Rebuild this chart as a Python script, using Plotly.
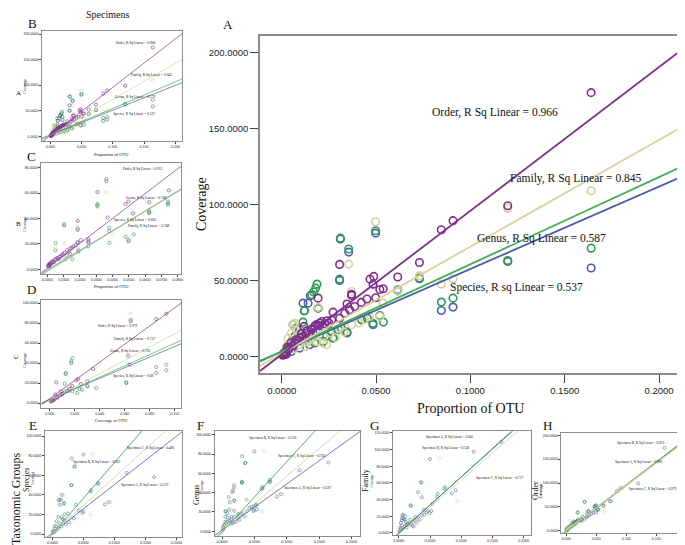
import plotly.graph_objects as go

W, H = 685, 545

# ---------------- data ----------------
# Specimen A (panel A main / panel B)
A_ORDER = [(0.164,173.7),(0.1198,99.2),(0.0908,89.4),(0.0846,83.4),(0.073,61.9),(0.0615,52.3),(0.0538,44.6),
           (0.052,44.1),(0.0488,52.7),(0.0468,50.9),(0.0484,47.6),(0.0498,38.6),(0.0452,37.8),(0.0422,35.6),
           (0.0387,32.9),(0.037,41.0),(0.037,40.2),(0.0346,34.5),(0.0307,60.6),(0.036,30.7),(0.0334,28.5),
           (0.0307,25.2),(0.0272,29.2),(0.025,22.0),(0.0214,23.0),(0.0201,22.0),(0.0193,38.4),(0.0193,20.5),
           (0.0157,17.6),(0.013,15.4),(0.0118,19.8),(0.0095,12.1),(0.0069,8.8),(0.0042,5.5),(0.0025,2.2),
           (0.0016,1.1),(0.0175,20.0),(0.016,18.0),(0.0145,14.5),(0.011,13.0),(0.0085,10.5),(0.006,7.0),
           (0.005,9.0),(0.0035,4.5),(0.003,6.0),(0.002,3.0),(0.0012,2.0),(0.0008,1.5),(0.0005,0.8),
           (0.0228,21.5),(0.024,23.5),(0.0265,24.0),(0.0075,11.0),(0.0105,15.0),(0.0135,17.0),(0.0185,21.0)]
A_FAMILY = [(0.164,109.1),(0.1198,97.5),(0.0846,47.6),(0.0908,51.2),(0.073,53.1),(0.0615,43.2),(0.0498,88.7),
            (0.0355,60.8),(0.037,42.8),(0.052,26.3),(0.0537,35.1),(0.0466,26.3),(0.037,20.9),(0.0307,18.7),
            (0.0254,15.4),(0.022,13.2),(0.0193,32.3),(0.0166,12.1),(0.0131,9.9),(0.0095,7.7),(0.006,20.9),
            (0.0069,22.0),(0.0051,15.4),(0.0034,12.1),(0.0025,6.6),(0.0016,3.3),(0.0011,1.5),(0.0113,13.2),
            (0.0148,11.0),(0.0184,9.9),(0.022,8.8),(0.0237,7.7),(0.0285,12.5),(0.033,16.0),(0.041,22.0),
            (0.044,24.5),(0.008,17.0),(0.0045,9.0),(0.01,16.0),(0.003,4.5),(0.0065,5.0),(0.0125,6.5)]
A_GENUS = [(0.164,71.3),(0.1198,63.2),(0.0846,35.8),(0.0908,38.4),(0.073,51.6),(0.0615,43.9),(0.0498,82.8),
           (0.0311,77.9),(0.0355,70.7),(0.0307,50.9),(0.0187,47.6),(0.018,45.0),(0.017,42.4),(0.0159,40.6),
           (0.0193,31.8),(0.012,30.1),(0.0113,22.6),(0.0484,20.9),(0.0539,22.6),(0.052,27.0),(0.0424,24.1),
           (0.0454,25.2),(0.0346,15.4),(0.0272,12.1),(0.03,17.6),(0.0316,18.7),(0.022,9.9),(0.0175,8.8),
           (0.014,12.1),(0.0078,18.7),(0.006,20.9),(0.0051,9.9),(0.0034,6.6),(0.0021,3.3),(0.0012,1.5),
           (0.0087,14.3),(0.0113,11.0),(0.0237,13.2),(0.026,16.5),(0.015,15.0)]
A_SPECIES = [(0.164,58.2),(0.1198,62.6),(0.0846,30.3),(0.0908,32.5),(0.073,51.2),(0.0615,43.2),(0.0498,81.2),
             (0.0311,77.3),(0.0355,68.7),(0.0307,50.0),(0.0113,35.1),(0.014,35.1),(0.012,30.1),(0.0152,40.0),
             (0.0193,31.8),(0.0484,21.7),(0.0424,24.1),(0.0272,12.1),(0.022,9.9),(0.0148,7.7),(0.0095,5.5),
             (0.0051,3.3),(0.0025,1.5),(0.0166,15.4),(0.0095,17.6),(0.0069,13.2),(0.0346,16.0),(0.02,20.0),
             (0.004,8.0),(0.0015,2.5)]

# Specimen B (panel C)
B_ORDER = [(0.0746,62.1),(0.0625,52.8),(0.0498,53.3),(0.048,51.5),(0.0526,44.0),(0.037,40.8),(0.0307,60.8),
           (0.0186,38.1),(0.0252,22.1),(0.0252,24.0),(0.0205,23.0),(0.0186,21.0),(0.0175,19.0),(0.016,18.0),
           (0.014,16.5),(0.012,15.0),(0.0105,13.0),(0.009,11.0),(0.0075,10.0),(0.006,9.0),(0.005,8.0),
           (0.004,7.0),(0.003,6.0),(0.002,5.0),(0.0015,4.0),(0.001,3.0),(0.0005,2.5),(0.0008,4.0),
           (0.0135,14.0),(0.0095,12.0)]
B_FAMILY = [(0.0362,60.5),(0.0741,55.0),(0.0498,24.0),(0.019,16.0),(0.0625,47.0),(0.0307,49.0),(0.0186,33.5),
            (0.0103,20.0),(0.005,18.0),(0.012,10.0),(0.008,7.0),(0.004,5.0),(0.002,3.0),(0.015,11.0),
            (0.026,19.0),(0.04,28.0)]
B_GENUS = [(0.0741,53.3),(0.0741,50.9),(0.0625,46.0),(0.0625,44.3),(0.0362,70.9),(0.0307,51.5),(0.0307,50.1),
           (0.0186,32.0),(0.0103,35.5),(0.0498,22.0),(0.048,25.6),(0.053,27.5),(0.038,32.8),(0.038,20.8),
           (0.011,8.0),(0.0153,8.0),(0.005,20.8),(0.005,15.0),(0.0186,21.3),(0.019,15.0),(0.025,18.0),
           (0.014,12.0),(0.008,10.0),(0.003,6.0),(0.0015,4.0),(0.0065,8.5)]
B_SPECIES = [(0.0741,52.0),(0.0362,69.3),(0.0307,50.0),(0.0186,31.0),(0.0625,45.0),(0.0498,23.0),(0.038,30.1),
             (0.0103,34.5),(0.0252,21.0),(0.019,14.0),(0.012,11.0),(0.007,8.0),(0.004,5.5),(0.002,3.5),
             (0.001,2.5),(0.015,17.0)]

# Specimen C (panel D)
C_ORDER = [(0.0933,89.3),(0.0853,84.0),(0.064,38.3),(0.0627,47.3),(0.0347,34.0),(0.0301,21.7),(0.0213,22.7),
           (0.0227,24.0),(0.0053,20.7),(0.018,17.0),(0.016,14.0),(0.014,12.0),(0.012,10.5),(0.01,9.0),
           (0.008,7.5),(0.006,6.0),(0.004,4.5),(0.003,3.0),(0.002,2.5),(0.001,2.0),(0.0045,8.5),(0.009,11.5),
           (0.025,19.0)]
C_FAMILY = [(0.0648,89.3),(0.0933,38.0),(0.0627,40.0),(0.0301,18.0),(0.0173,15.0),(0.012,12.0),(0.008,8.0),
            (0.005,5.0),(0.003,3.5),(0.001,2.0),(0.02,10.0),(0.026,12.5),(0.015,16.0)]
C_GENUS = [(0.0648,83.3),(0.0933,38.3),(0.0853,36.0),(0.0181,45.0),(0.0173,41.7),(0.0128,30.0),(0.0613,20.7),
           (0.0301,16.7),(0.0373,15.0),(0.012,19.3),(0.022,10.0),(0.009,8.0),(0.006,6.5),(0.004,4.0),
           (0.002,2.5),(0.015,12.0),(0.026,13.5)]
C_SPECIES = [(0.0648,81.7),(0.0933,32.7),(0.0853,30.0),(0.0173,40.0),(0.0128,29.0),(0.0613,20.0),(0.0301,17.0),
             (0.018,12.0),(0.01,9.0),(0.006,5.0),(0.003,3.0),(0.001,1.5),(0.024,14.0)]

LEVELS = ["Species", "Genus", "Family", "Order"]
LEVEL_R2_B = ["0.537", "0.579", "0.845", "0.966"]
LEVEL_R2_C = ["0.802", "0.788", "0.748", "0.913"]
LEVEL_R2_D = ["0.68", "0.702", "0.737", "0.979"]

# fit lines (slope, intercept), order: Species, Genus, Family, Order
FIT_A = [(543, 3.3), (574, 3.3), (703, 2.0), (946, 1.3)]
FIT_B = [(485, 2.5), (520, 2.5), (703, 2.0), (946, 1.3)]
FIT_C = [(770, -0.5), (790, -1.5), (780, -1.0), (978, 0.9)]
FIT_D = [(530, 3.5), (564, 3.3), (664, 2.8), (908, 4.4)]
# bottom row, order: Specimen A, Specimen B, Specimen C
FIT_E = [(495, 1.0), (730, 0.0), (575, 0.5)]
FIT_F = [(481, 1.0), (732, -1.0), (572, 0.0)]
FIT_G = [(672, 0.0), (680, -0.5), (650, -1.5)]
FIT_H = [(955, 0.0), (965, -1.0), (945, 0.5)]
R2_E = ["0.537", "0.663", "0.466"]
R2_F = ["0.587", "0.510", "0.703"]
R2_G = ["0.845", "0.746", "0.737"]
R2_H = ["0.966", "0.913", "0.979"]

# ---------------- styling ----------------
PURPLE = "#7F2E8C"
BEIGE = "#D6D29E"
GREEN = "#3CAE4C"
GREEN_M = "#2E9A55"
BLUE = "#4A5BB0"
LEVEL_LINE = [BLUE, GREEN, BEIGE, PURPLE]
LEVEL_MARK = [BLUE, GREEN_M, BEIGE, PURPLE]
SPEC_COL = [BLUE, GREEN_M, BEIGE]
SERIF = "Liberation Serif, Times New Roman, serif"
SANS = "Liberation Sans, Arial, sans-serif"
AXC = "#8C8C8C"

fig = go.Figure()

def px2paper(x, y):
    return x / W, 1 - y / H

panels = {}
def add_axes(n, box, xr, yr, xdt, xfmt, ydt, yfmt, big=False):
    x0, x1, y0, y1 = box
    s = "" if n == 1 else str(n)
    tf = dict(family=SANS, size=9.5 if big else 3.6, color="#222")
    common = dict(showline=True, mirror=True, linecolor=AXC, linewidth=1.6 if big else 0.7,
                  showgrid=False, zeroline=False, ticks="outside", ticklen=8 if big else 2,
                  tickwidth=1.2 if big else 0.5, tickcolor="#444", tickfont=tf, automargin=False)
    fig.layout["xaxis" + s] = dict(domain=[x0 / W, x1 / W], range=xr, anchor="y" + s,
                                   dtick=xdt, tick0=0, tickformat=xfmt, **common)
    fig.layout["yaxis" + s] = dict(domain=[1 - y1 / H, 1 - y0 / H], range=yr, anchor="x" + s,
                                   dtick=ydt, tick0=0, tickformat=yfmt, **common)
    panels[n] = ("x" + s, "y" + s, xr)

add_axes(1, (252, 672, 28, 365), [-0.0115, 0.2111], [-10.9, 211], 0.05, ".4f", 50, ".4f", big=True)
add_axes(2, (34, 174, 23, 133), [-0.0133, 0.2107], [-9.2, 205.9], 0.05, ".3f", 50, ".4f")
add_axes(3, (33.3, 173.3, 155.3, 266.3), [-0.0037, 0.0822], [-3.9, 83.4], 0.01, ".4f", 20, ".4f")
add_axes(4, (33.3, 173.3, 291.7, 400), [-0.0067, 0.1053], [-5, 103.3], 0.02, ".3f", 20, ".4f")
add_axes(5, (37, 174, 423, 529), [-0.0118, 0.209], [-3, 105.3], 0.05, ".4f", 20, ".4f")
add_axes(6, (206.7, 352, 423, 528), [-0.0113, 0.213], [-4.9, 104], 0.05, ".4f", 20, ".4f")
add_axes(7, (385, 522.7, 423.3, 527.3), [-0.0092, 0.211], [-2.8, 122], 0.05, ".4f", 20, ".4f")
add_axes(8, (553.3, 683, 425, 525), [-0.0083, 0.208], [-4.8, 205], 0.05, ".3f", 50, ".4f")

def scatter(n, pts, color, size, lw):
    xa, ya, _ = panels[n]
    xs = [p[0] for p in pts]
    ys = [p[1] for p in pts]
    fig.add_trace(go.Scatter(x=xs, y=ys, mode="markers", xaxis=xa, yaxis=ya, showlegend=False,
                             marker=dict(symbol="circle-open", size=size, color=color,
                                         line=dict(width=lw, color=color)), hoverinfo="skip"))

def fitline(n, coef, color, lw):
    xa, ya, xr = panels[n]
    m, b = coef
    fig.add_trace(go.Scatter(x=[xr[0], xr[1]], y=[m * xr[0] + b, m * xr[1] + b], mode="lines",
                             xaxis=xa, yaxis=ya, showlegend=False, line=dict(color=color, width=lw),
                             hoverinfo="skip", cliponaxis=True))

level_sets = {
    1: [A_SPECIES, A_GENUS, A_FAMILY, A_ORDER],
    2: [A_SPECIES, A_GENUS, A_FAMILY, A_ORDER],
    3: [B_SPECIES, B_GENUS, B_FAMILY, B_ORDER],
    4: [C_SPECIES, C_GENUS, C_FAMILY, C_ORDER],
}
level_fits = {1: FIT_A, 2: FIT_B, 3: FIT_C, 4: FIT_D}
for n, sets in level_sets.items():
    big = n == 1
    for i, pts in enumerate(sets):
        scatter(n, pts, LEVEL_MARK[i], 7.5 if big else 3.2, 1.6 if big else 0.6)
    for i, coef in enumerate(level_fits[n]):
        fitline(n, coef, LEVEL_LINE[i], 1.8 if big else 0.7)

# bottom row: regrouped by taxonomic level, one series per specimen
spec_sets = {
    5: [A_SPECIES, B_SPECIES, C_SPECIES],
    6: [A_GENUS, B_GENUS, C_GENUS],
    7: [A_FAMILY, B_FAMILY, C_FAMILY],
    8: [A_ORDER, B_ORDER, C_ORDER],
}
spec_fits = {5: FIT_E, 6: FIT_F, 7: FIT_G, 8: FIT_H}
for n, sets in spec_sets.items():
    for i, pts in enumerate(sets):
        scatter(n, pts, SPEC_COL[i], 3.0, 0.55)
    for i, coef in enumerate(spec_fits[n]):
        fitline(n, coef, SPEC_COL[i], 0.8 if n != 8 else 1.2)

ann = []
def txt(x, y, s, size, rot=0, bold=False, family=SERIF, ref="paper"):
    if ref == "paper":
        xx, yy = px2paper(x, y)
        xr, yr = "paper", "paper"
    else:
        xx, yy = x, y
        xr, yr = ref
    if bold:
        s = "<b>" + s + "</b>"
    ann.append(dict(x=xx, y=yy, xref=xr, yref=yr, text=s, showarrow=False, textangle=rot,
                    font=dict(family=family, size=size, color="#111"), xanchor="center", yanchor="middle"))

# main panel A texts
txt(0.1129, 160.9, "Order, R Sq Linear = 0.966", 11.5, ref=("x", "y"))
txt(0.1558, 117.0, "Family, R Sq Linear = 0.845", 11.5, ref=("x", "y"))
txt(0.1376, 77.5, "Genus, R Sq Linear = 0.587", 11.5, ref=("x", "y"))
txt(0.1244, 45.4, "Species, R sq Linear = 0.537", 11.5, ref=("x", "y"))
txt(220, 16, "A", 13)
txt(462, 400, "Proportion of OTU", 14)
txt(193, 196, "Coverage", 14, rot=-90)

# column/row labels
txt(99, 6, "Specimens", 10)
txt(25, 15, "B", 13)
txt(23, 149, "C", 13)
txt(23, 281, "D", 13)
txt(10, 85, "A", 7)
txt(10, 216, "B", 7)
txt(8, 348, "C", 7, rot=-90)
for cy in (78, 216, 352):
    txt(16, cy, "Coverage", 4, rot=-90)
txt(103, 146, "Proportion of OTU", 4.5)
txt(103, 278, "Proportion of OTU", 4.5)
txt(103, 412.7, "Coverage of OTU", 4.5)

# panel B annotations
txt(128.3, 35, "Order, R Sq Linear = " + LEVEL_R2_B[3], 3.6)
txt(143.3, 67.3, "Family, R Sq Linear = " + LEVEL_R2_B[2], 3.6)
txt(127.3, 89.3, "Genus, R Sq Linear = " + LEVEL_R2_B[1], 3.6)
txt(126, 106, "Species, R Sq Linear = " + LEVEL_R2_B[0], 3.6)
# panel C annotations
txt(135, 161.3, "Order, R Sq Linear = " + LEVEL_R2_C[3], 3.6)
txt(138.3, 190.3, "Genus, R Sq Linear = " + LEVEL_R2_C[1], 3.6)
txt(127.3, 212, "Species, R Sq Linear = " + LEVEL_R2_C[0], 3.6)
txt(140, 218, "Family, R Sq Linear = " + LEVEL_R2_C[2], 3.6)
# panel D annotations
txt(110, 318.3, "Order, R Sq Linear = " + LEVEL_R2_D[3], 3.6)
txt(126.7, 331.7, "Family, R Sq Linear = " + LEVEL_R2_D[2], 3.6)
txt(121.7, 343.3, "Genus, R Sq Linear = " + LEVEL_R2_D[1], 3.6)
txt(125, 368.3, "Species, R Sq Linear = " + LEVEL_R2_D[0], 3.6)

# bottom row
txt(25, 417, "E", 13)
txt(192.7, 417, "F", 13)
txt(366.7, 417, "G", 13)
txt(539.3, 417, "H", 13)
txt(8, 491, "Taxonomic Groups", 12, rot=-90)
txt(18, 472, "Species", 8, rot=-90)
txt(25, 470, "Coverage", 3.5, rot=-90)
txt(188, 487, "Genus", 8, rot=-90)
txt(193.5, 478, "Coverage", 3.5, rot=-90)
txt(357, 473, "Family", 8, rot=-90)
txt(363.5, 473, "Coverage", 3.5, rot=-90)
txt(527, 483, "Order", 8, rot=-90)
txt(533, 483, "Coverage", 3.5, rot=-90, bold=True)
txt(106, 538.5, "Proportion of OTU", 4.5)
txt(281, 538, "Proportion of OTU", 4.5)
txt(451.7, 538.5, "Proportion of OTU", 4.5)
txt(619.3, 539, "Proportion", 4.5, bold=True)

txt(143, 440, "Specimen C, R Sq Linear = " + R2_E[2], 3.5)
txt(89, 454, "Specimen B, R Sq Linear = " + R2_E[1], 3.5)
txt(137, 477, "Specimen A, R Sq Linear = " + R2_E[0], 3.5)
txt(265, 430.7, "Specimen B, R Sq Linear = " + R2_F[1], 3.5)
txt(294.3, 448.3, "Specimen C, R Sq Linear = " + R2_F[2], 3.5)
txt(300, 480, "Specimen A, R Sq Linear = " + R2_F[0], 3.5)
txt(441.7, 429, "Specimen A, R Sq Linear = " + R2_G[0], 3.5)
txt(438.3, 440.7, "Specimen B, R Sq Linear = " + R2_G[1], 3.5)
txt(491.7, 470.7, "Specimen C, R Sq Linear = " + R2_G[2], 3.5)
txt(633.3, 435, "Specimen B, R Sq Linear = " + R2_H[1], 3.5)
txt(631, 454.3, "Specimen A, R Sq Linear = " + R2_H[0], 3.5)
txt(645, 481.7, "Specimen C, R Sq Linear = " + R2_H[2], 3.5)

fig.update_layout(width=W, height=H, margin=dict(l=0, r=0, t=0, b=0), paper_bgcolor="white",
                  plot_bgcolor="white", annotations=ann, showlegend=False)

fig.write_html("out.html")
